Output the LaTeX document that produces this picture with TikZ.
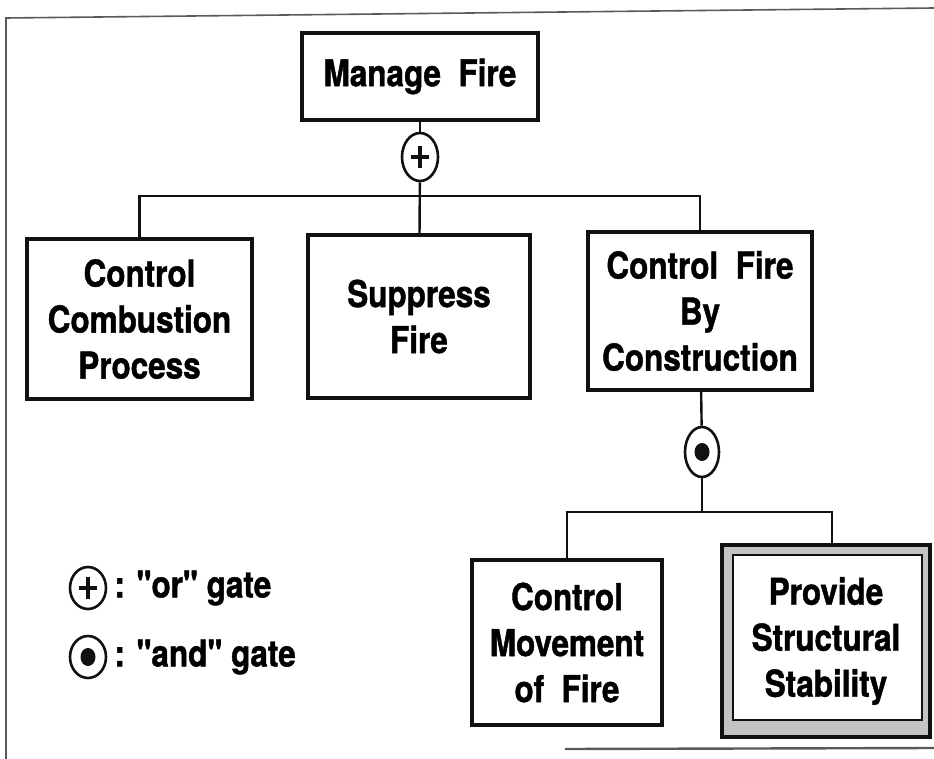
\documentclass[tikz,border=0pt]{standalone}
\usepackage{fontspec}
\setmainfont[FakeStretch=0.85,FakeBold=1.2]{TeX Gyre Heros}
\newfontfamily\keyfont[FakeStretch=0.85,FakeBold=1.2]{TeX Gyre Heros}
\usetikzlibrary{shapes.geometric,positioning}
\definecolor{ink}{HTML}{111111}
\definecolor{band}{HTML}{C4C4C4}
\definecolor{frame}{HTML}{5A5A5A}
\tikzset{
  goalbox/.style={draw=ink,line width=3.6pt,fill=white,align=center,inner sep=4pt,
    font=\bfseries\fontsize{37}{46}\selectfont},
  gate/.style={ellipse,draw=ink,line width=2.6pt,fill=white,inner sep=0pt,
    minimum width=36pt,minimum height=48pt},
  orgate/.style={gate,path picture={
      \draw[ink,line width=3.6pt] (path picture bounding box.center) ++(-9pt,0) -- ++(18pt,0)
        (path picture bounding box.center) ++(0,-11pt) -- ++(0,22pt);}},
  andgate/.style={gate,path picture={
      \fill[ink] (path picture bounding box.center) ellipse[x radius=7.5pt,y radius=9pt];}},
  link/.style={draw=ink,line width=2.4pt},
  frameline/.style={draw=frame,line width=1.6pt},
  legendtext/.style={font=\keyfont\bfseries\fontsize{37}{46}\selectfont,inner sep=0pt}
}

\begin{document}
\begin{tikzpicture}[x=1pt,y=-1pt,
    g/.style={goalbox,minimum width=225pt,minimum height=160pt},
    key/.style={minimum width=36pt,minimum height=42pt}
  ]
  \useasboundingbox (0,0) rectangle (934,759);
  \fill[white] (0,0) rectangle (934,759);
  % page frame
  \draw[frameline] (6,759) -- (6,18) -- (934,8);
  \draw[frameline,line width=2.4pt] (565,749) -- (934,748);

  % goals
  \node[goalbox,minimum width=236pt,minimum height=87pt] (manage) at (420,76.5) {Manage\ \ Fire};
  \node[orgate] (gor) at (420,157) {};
  \node[g] (ccp) at (139.5,319) {Control\\Combustion\\Process};
  \node[g,minimum width=222pt,minimum height=163pt] (sup) at (419,316.5) {Suppress\\Fire};
  \node[g,minimum width=224pt,minimum height=158pt] (cfc) at (700,311) {Control\ \ Fire\\By\\Construction};
  \node[andgate,minimum width=34pt,minimum height=50pt] (gand) at (702,452) {};
  \node[g,minimum width=190pt,minimum height=165pt] (cmf) at (567,642.5) {Control\\Movement\\of\ \ Fire};
  \node[g,minimum width=208pt,minimum height=192pt,line width=4pt,fill=band,
    path picture={\filldraw[fill=white,draw=ink,line width=1.8pt]
      ([xshift=11pt,yshift=-10pt]path picture bounding box.north west) rectangle
      ([xshift=-8pt,yshift=17pt]path picture bounding box.south east);}]
    (pss) at (826,641) {Provide\\Structural\\Stability};

  % connectors
  \coordinate (busa) at (420,196);
  \coordinate (busb) at (702,512);
  \draw[link] (manage) -- (gor);
  \draw[link] (gor) -- (sup);
  \draw[link] (ccp.north) |- (busa) -| (cfc.north);
  \draw[link] (cfc) -- (gand);
  \draw[link] (gand) -- (busb);
  \draw[link] (cmf.north) |- (busb) -| ([xshift=6pt]pss.north);

  % legend
  \node[orgate,key] (lor) at (88,588) {};
  \node[andgate,key] (land) at (88,657) {};
  \node[legendtext,right=7pt of lor] (lortxt) {: "or"\ gate};
  \node[legendtext,right=7pt of land] (landtxt) {: "and"\ gate};
\end{tikzpicture}
\end{document}
